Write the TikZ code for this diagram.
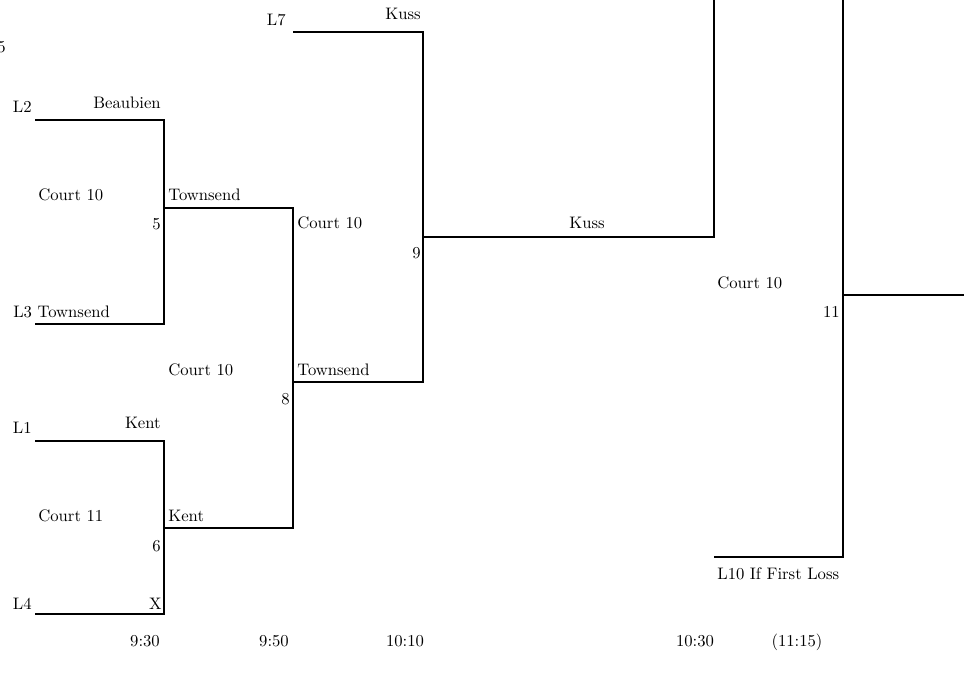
\documentclass[tikz,border=0pt]{standalone}
\usepackage{tikz}

\begin{document}
\begin{tikzpicture}
[x=0.6pt,y=-0.6pt,%
  lineDecorate/.style={-,line width=1.2pt},%
  labelDecorate/.style={inner sep=0pt,font=\normalsize}]
\useasboundingbox (0,0) rectangle (964,673);
%% corners of the brackets
\foreach \cname/\x/\y in {a1/35/120, a2/164/120, a3/164/324, a4/35/324,
  m5/164/208, m5r/293/208, b1/35/441, b2/164/441, b3/164/614, b4/35/614,
  m6/164/528, m6r/293/528, m8/293/382, m8r/423/382, c1/293/32, c2/423/32,
  m9/423/237, m9r/714/237, d0/714/0, e0/843/0, e1/843/557, e2/714/557,
  m11/843/295, m11r/964/295}
{
  \coordinate (\cname) at (\x,\y);
}
%% bracket lines
\draw[lineDecorate] (a1) -- (a2) -- (a3) -- (a4);
\draw[lineDecorate] (b1) -- (b2) -- (b3) -- (b4);
\draw[lineDecorate] (m5) -- (m5r) -- (m6r) -- (m6);
\draw[lineDecorate] (c1) -- (c2) -- (m8r) -- (m8);
\draw[lineDecorate] (m9) -- (m9r) -- (d0);
\draw[lineDecorate] (e0) -- (e1) -- (e2);
\draw[lineDecorate] (m11) -- (m11r);
%% labels
\foreach \lname/\anc/\x/\y/\txt in {
  top5/base east/6/52/5, l7/base east/286/25/L7, kussA/base east/421/19/Kuss,
  kussB/base/587/228/Kuss, g9/base east/421/258/9, crtE/base west/717/288/Court 10,
  g11/base east/840/317/11, l10/base west/717/579/L10 If First Loss,
  l2/base east/32/112/L2, beau/base east/161/108/Beaubien,
  crtA/base west/38/200/Court 10, townA/base west/168/200/Townsend,
  g5/base east/161/229/5, l3/base west/13/317/L3 Townsend,
  crtB/base west/297/228/Court 10, crtC/base west/168/375/Court 10,
  townB/base west/297/375/Townsend, g8/base east/290/404/8,
  l1/base east/32/433/L1, kentA/base east/161/428/Kent,
  crtD/base west/38/521/Court 11, kentB/base west/168/521/Kent,
  g6/base east/161/551/6, l4/base east/32/609/L4, bye/base east/162/609/X}
{
  \node (\lname) [labelDecorate,anchor=\anc] at (\x,\y) {\txt};
}
%% times
\foreach \tname/\x/\txt in {t1/145/9:30, t2/274/9:50, t3/405/10:10,
  t4/695/10:30, t5/797/{(11:15)}}
{
  \node (\tname) [labelDecorate,anchor=base] at (\x,646) {\txt};
}
\end{tikzpicture}
\end{document}
